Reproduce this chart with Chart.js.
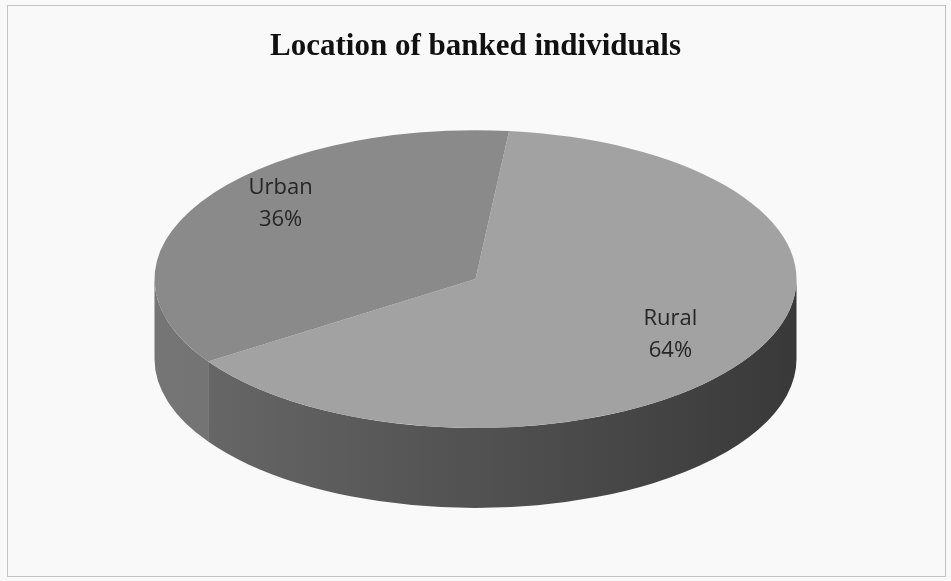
<!DOCTYPE html>
<html lang="en">
<head>
  <meta charset="UTF-8">
  <title>Location of banked individuals</title>
  <script src="https://cdn.jsdelivr.net/npm/chart.js"></script>
  <style>
    html, body {
      margin: 0;
      padding: 0;
      background: #f9f9f9;
    }

    .frame {
      position: absolute;
      left: 7px;
      top: 5px;
      width: 937px;
      height: 570px;
      border: 1px solid #c2c2c2;
    }

    .chart-box {
      position: absolute;
      left: 0;
      top: 0;
      width: 951px;
      height: 581px;
    }
  </style>
</head>

<body>

  <div class="frame"></div>
  <div class="chart-box">
    <canvas id="pieChart"></canvas>
  </div>

  <script>
    const locations = ['Rural', 'Urban'];
    const shares = [64, 36];

    // top faces and walls, one colour per slice
    const topColors = ['#a2a2a2', '#8a8a8a'];
    const wallColors = [['#6a6a6a', '#393939'], ['#757575', '#696969']];

    const TILT = 0.464;       // squash of the pie top (ry / rx)
    const DEPTH = 80;         // wall height in px
    const LABEL_X = 0.71;     // label distance from centre, share of radius
    const LABEL_Y = 0.85;
    const LABEL_LIFT = 10;

    // draws the pie as a tilted disc: walls first, then the squashed top
    const pie3d = {
      id: 'pie3d',
      beforeDatasetsDraw(chart) {
        const ctx = chart.ctx;
        const arcs = chart.getDatasetMeta(0).data;

        arcs.forEach((arc, i) => {
          const { x, y, startAngle, endAngle, outerRadius: r } = arc.getProps(['x', 'y', 'startAngle', 'endAngle', 'outerRadius'], true);
          const grad = ctx.createLinearGradient(x - r, 0, x + r, 0);
          grad.addColorStop(0, wallColors[i][0]);
          grad.addColorStop(1, wallColors[i][1]);

          // only the front half (0..PI) of the wall can be seen
          for (let n = -1; n <= 2; n++) {
            const lo = Math.max(startAngle, 2 * Math.PI * n);
            const hi = Math.min(endAngle, 2 * Math.PI * n + Math.PI);
            if (hi <= lo) continue;
            ctx.beginPath();
            ctx.ellipse(x, y, r, r * TILT, 0, lo, hi, false);
            ctx.ellipse(x, y + DEPTH, r, r * TILT, 0, hi, lo, true);
            ctx.closePath();
            ctx.fillStyle = grad;
            ctx.fill();
          }
        });

        const cy = arcs[0].y;
        ctx.save();
        ctx.translate(0, cy);
        ctx.scale(1, TILT);
        ctx.translate(0, -cy);
      },
      afterDatasetsDraw(chart) {
        const ctx = chart.ctx;
        ctx.restore();

        const meta = chart.getDatasetMeta(0);
        const total = shares.reduce((a, b) => a + b, 0);
        ctx.save();
        ctx.font = '22px "Open Sans"';
        ctx.fillStyle = '#262626';
        ctx.textAlign = 'center';
        ctx.textBaseline = 'middle';
        meta.data.forEach((arc, i) => {
          const { x, y, startAngle, endAngle, outerRadius: r } = arc.getProps(['x', 'y', 'startAngle', 'endAngle', 'outerRadius'], true);
          const mid = (startAngle + endAngle) / 2;
          const lx = x + Math.cos(mid) * r * LABEL_X;
          const ly = y + Math.sin(mid) * r * TILT * LABEL_Y - LABEL_LIFT;
          ctx.fillText(locations[i], lx, ly - 16);
          ctx.fillText(Math.round(shares[i] / total * 100) + '%', lx, ly + 16);
        });
        ctx.restore();
      }
    };

    new Chart(document.getElementById('pieChart'), {
      type: 'pie',
      data: {
        labels: locations,
        datasets: [{
          data: shares,
          backgroundColor: topColors,
          borderWidth: 0,
          radius: 321,
          clip: false
        }]
      },
      options: {
        responsive: true,
        maintainAspectRatio: false,
        animation: false,
        rotation: 6,
        events: [],
        layout: {
          padding: { top: 0, bottom: 98, left: 0, right: 0 }
        },
        plugins: {
          legend: { display: false },
          tooltip: { enabled: false },
          title: {
            display: true,
            text: 'Location of banked individuals',
            color: '#111',
            font: { family: '"Liberation Serif"', size: 31, weight: 'bold' },
            padding: { top: 28, bottom: 10 }
          }
        }
      },
      plugins: [pie3d]
    });
  </script>

</body>
</html>
